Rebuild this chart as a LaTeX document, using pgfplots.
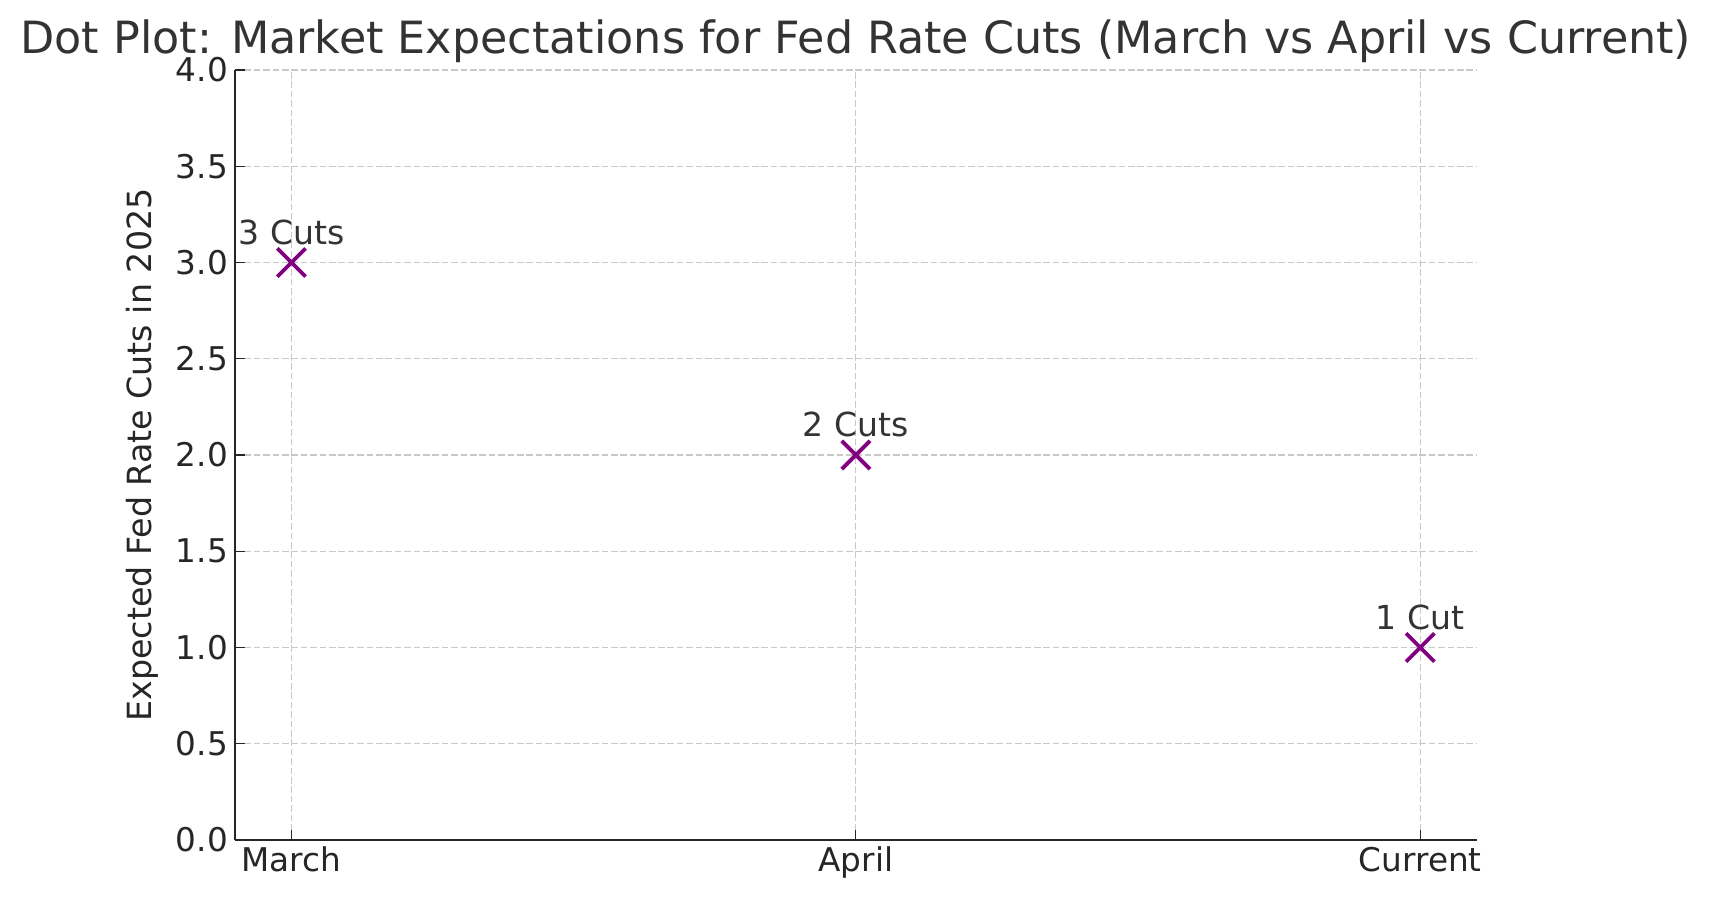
\documentclass[border=0pt]{standalone}
\usepackage{fontspec}
\setmainfont{DejaVu Sans}
\usepackage{pgfplots}
\pgfplotsset{compat=1.18}
\definecolor{txt}{HTML}{333333}
\definecolor{tk}{HTML}{262626}
\definecolor{gridc}{HTML}{C8C8C8}
\definecolor{mk}{HTML}{800080}
\begin{document}
\begin{tikzpicture}
\useasboundingbox (0,0) rectangle (854.5bp,451.5bp);
\begin{axis}[
  at={(117.5bp,31.5bp)}, anchor=south west,
  scale only axis, width=620.85bp, height=385bp,
  xmin=-0.1, xmax=2.1, ymin=0, ymax=4,
  xtick={0,1,2}, xticklabels={March,April,Current},
  ytick={0,0.5,1,1.5,2,2.5,3,3.5,4},
  yticklabel style={/pgf/number format/.cd, fixed, fixed zerofill, precision=1, assume math mode=true},
  ticklabel style={font=\fontsize{16.4}{19}\selectfont, text=tk},
  axis x line*=bottom, axis y line*=left,
  axis line style={tk, line width=1bp, -},
  tick align=inside, major tick length=5bp,
  tick style={tk, line width=0.6bp},
  grid=major,
  major grid style={gridc, dash pattern=on 3.3bp off 1.4bp, line width=0.6bp},
  title={Dot Plot: Market Expectations for Fed Rate Cuts (March vs April vs Current)},
  title style={at={(axis description cs:0.5,1.0065)}, anchor=base, font=\fontsize{22.3}{26}\selectfont, text=txt},
  ylabel={Expected Fed Rate Cuts in 2025},
  ylabel style={at={(axis description cs:-0.067,0.5)}, anchor=base, font=\fontsize{16.7}{19}\selectfont, text=tk},
  clip=false,
]
\addplot[only marks, mark=x, mark size=10bp, mk, line width=1.9bp,
  nodes near coords, point meta=explicit symbolic,
  nodes near coords style={anchor=base, yshift=9.2bp, font=\fontsize{16.6}{19}\selectfont, text=txt}]
  table[col sep=comma, meta=label] {
x,y,label
0,3,3 Cuts
1,2,2 Cuts
2,1,1 Cut
};
\end{axis}
\end{tikzpicture}
\end{document}
